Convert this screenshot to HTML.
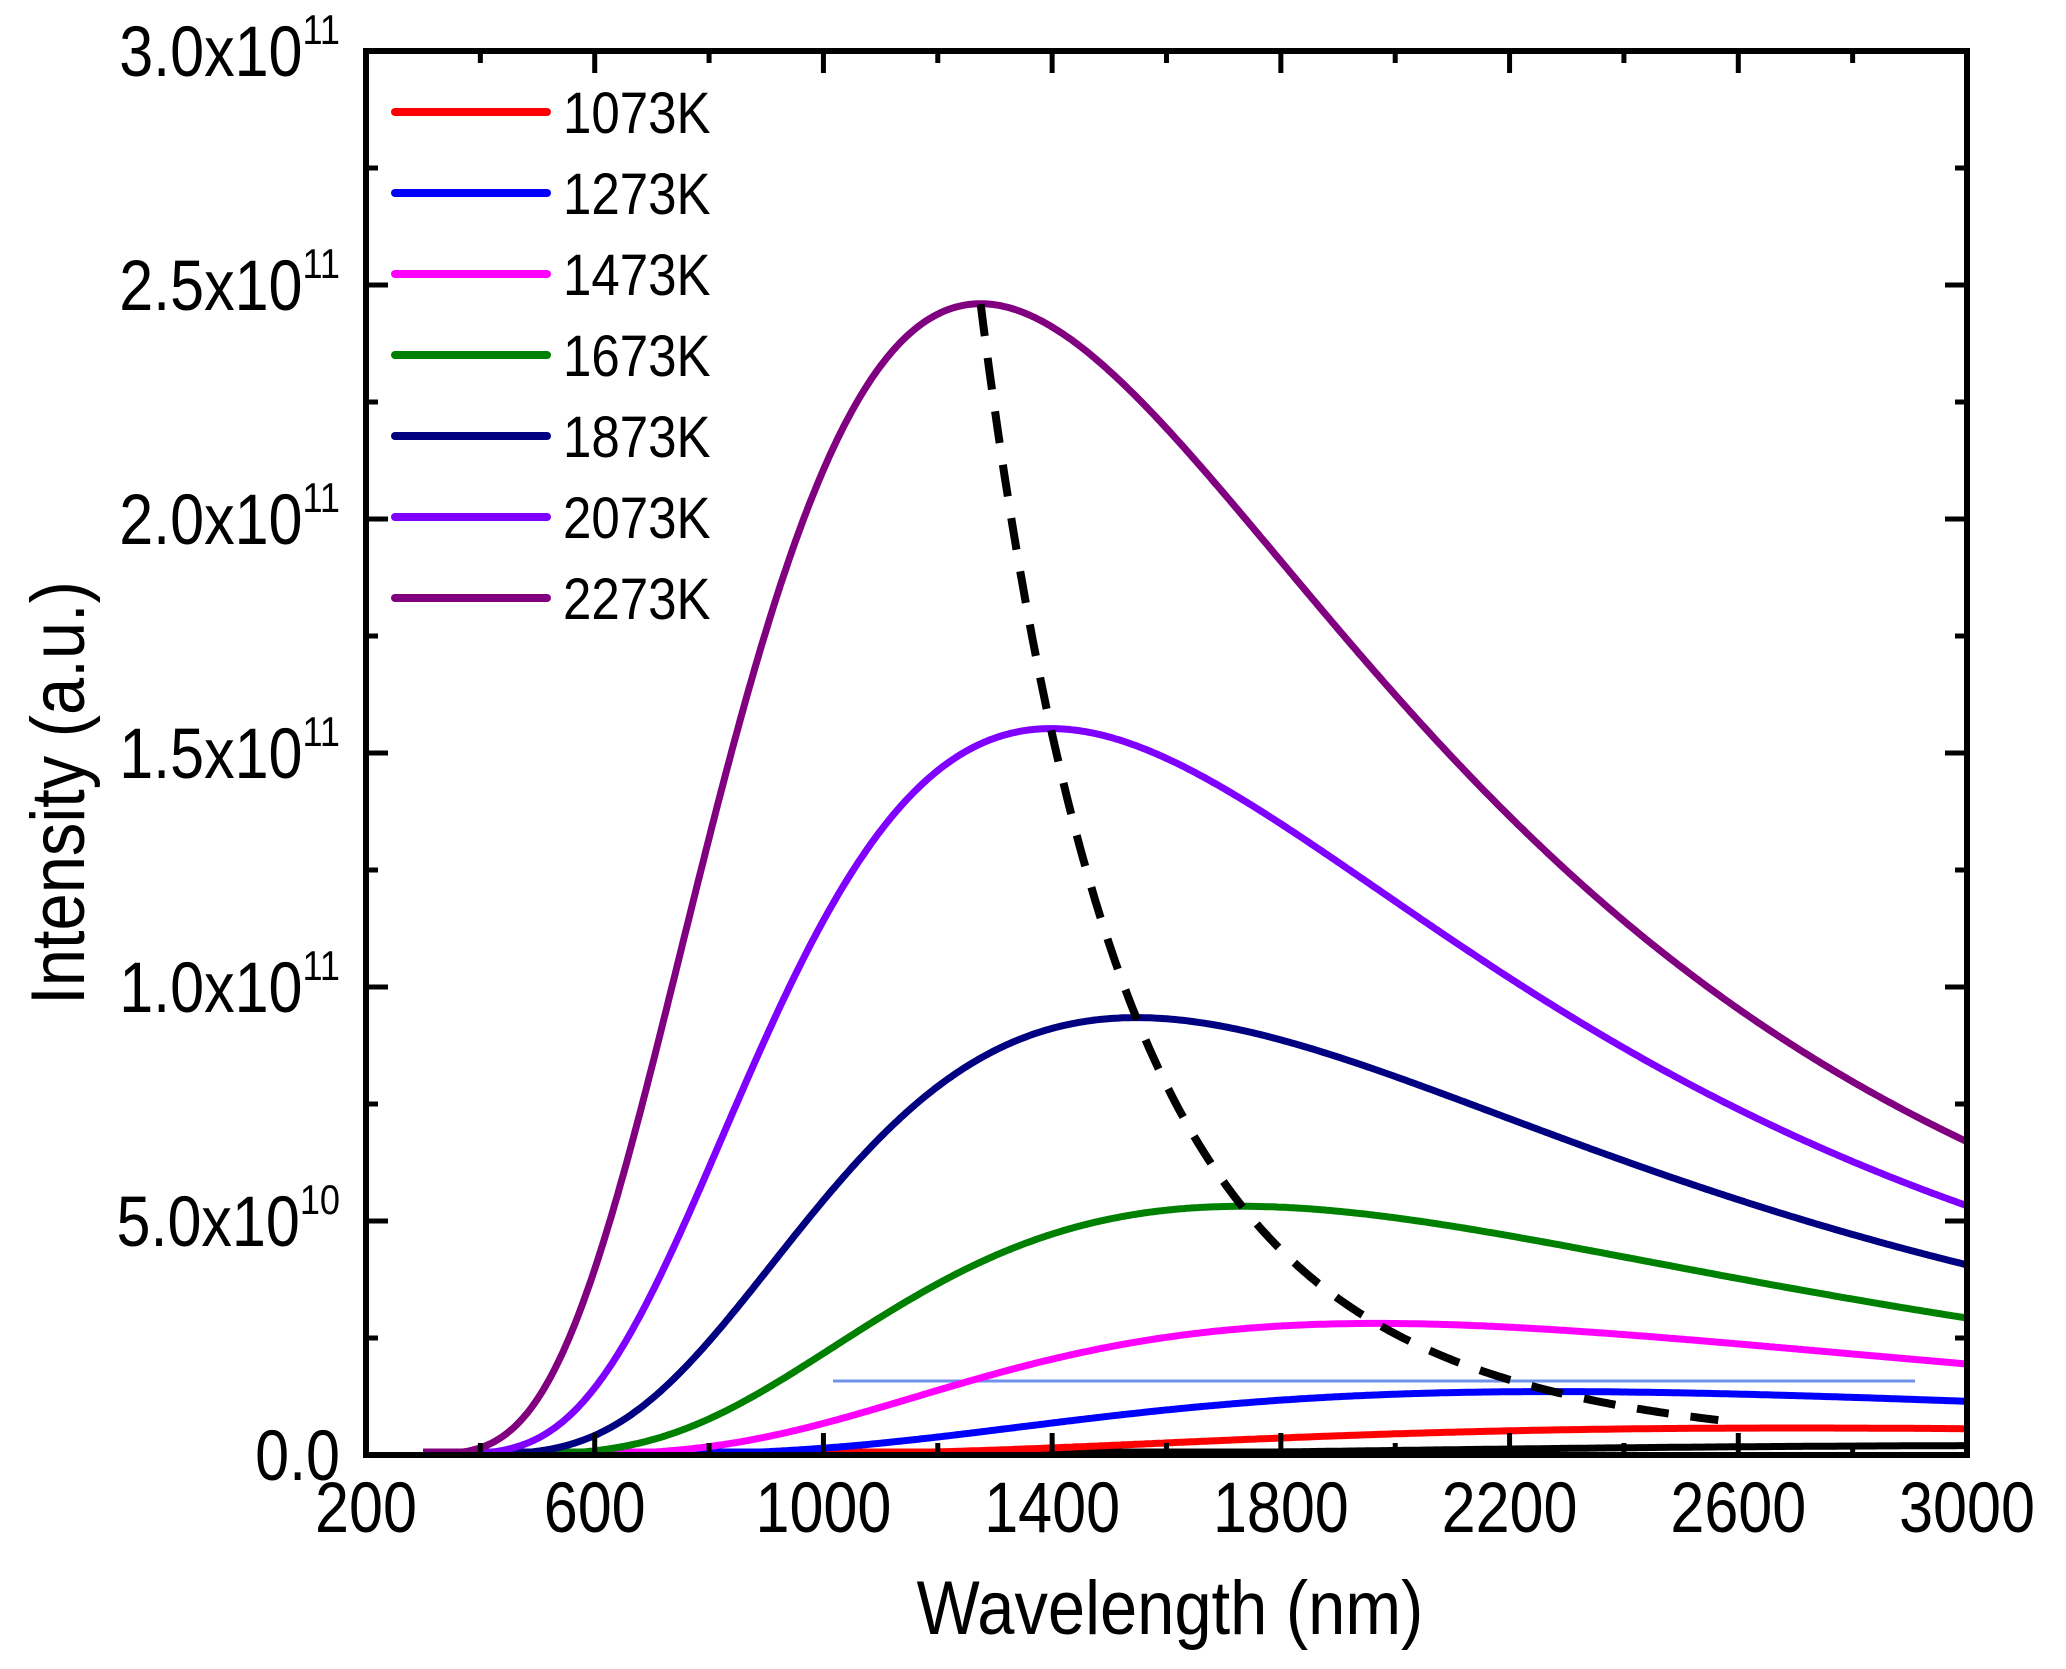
<!DOCTYPE html>
<html><head><meta charset="utf-8"><style>html,body{margin:0;padding:0;background:#fff}svg{display:block}</style></head>
<body>
<svg id="s" width="2066" height="1669" xmlns="http://www.w3.org/2000/svg" font-family="Liberation Sans, Arial, sans-serif">
<rect width="2066" height="1669" fill="#fff"/>
<g id="curves"></g>
<g id="ticks" stroke="#000" stroke-width="5"></g>
<rect x="366" y="51" width="1601" height="1404" fill="none" stroke="#000" stroke-width="6"/>
<g font-size="71" fill="#000" text-anchor="middle" id="xl"></g>
<g font-size="71" fill="#000" text-anchor="end" id="yl"></g>
<text x="1170" y="1634" font-size="76" text-anchor="middle" transform="translate(1170,0) scale(0.88,1) translate(-1170,0)">Wavelength (nm)</text>
<text transform="translate(84,793) rotate(-90) scale(0.88,1)" font-size="76" text-anchor="middle">Intensity (a.u.)</text>
<g id="leg" font-size="58"></g>
</svg>
<script>
var NS="http://www.w3.org/2000/svg";
function X(l){return 366+(l-200)/2800*1601;}
function Y(v){return 1455-v/1e11*468;}
function el(p,t,a,txt){var e=document.createElementNS(NS,t);for(var k in a)e.setAttribute(k,a[k]);if(txt!=null)e.textContent=txt;document.getElementById(p).appendChild(e);return e;}
function sx(x,s){return "translate("+x+",0) scale("+s+",1) translate("+(-x)+",0)";}
var c2=1.4388e7;
function B(l,T){return Math.pow(l,-5)/(Math.exp(c2/(l*T))-1);}
var Tref=2273;
var peakRef=B(2897.8/Tref*1000,Tref);
var K=2.46e11/peakRef;
el("curves","line",{x1:833,y1:1381,x2:1915,y2:1381,stroke:"#6f93e6","stroke-width":3});
var series=[[873,"#000",1000],[1073,"#ff0000",300],[1273,"#0000ff",300],[1473,"#ff00ff",300],[1673,"#008000",300],[1873,"#000080",300],[2073,"#8000ff",300],[2273,"#800080",300]];
series.forEach(function(s){
  var d="";for(var l=s[2];l<=3000;l+=5){var v=K*B(l,s[0]);var y=Math.min(Y(v),1452);d+=(d?"L":"M")+X(l).toFixed(1)+","+y.toFixed(1);}
  el("curves","path",{d:d,fill:"none",stroke:s[1],"stroke-width":7,"stroke-linejoin":"round"});
});
var d="";for(var l=1275;l<=2565;l+=5){var T=2897800/l;var v=K*B(l,T);d+=(d?"L":"M")+X(l).toFixed(1)+","+Y(v).toFixed(1);}
el("curves","path",{d:d,fill:"none",stroke:"#000","stroke-width":8,"stroke-dasharray":"32,22"});
for(var l=200;l<=3000;l+=200){var maj=(l-200)%400==0;var L=maj?22:12;var x=X(l);
 el("ticks","line",{x1:x,y1:1455,x2:x,y2:1455-L});el("ticks","line",{x1:x,y1:51,x2:x,y2:51+L});
 if(maj)el("xl","text",{x:x,y:1532,transform:sx(x,0.86)},String(l));}
for(var i=0;i<=12;i++){var v=i*0.25e11;var y=Y(v);var maj=i%2==0;var L=maj?22:12;
 el("ticks","line",{x1:366,y1:y,x2:366+L,y2:y});el("ticks","line",{x1:1967,y1:y,x2:1967-L,y2:y});
 if(maj){ if(i==0){el("yl","text",{x:340,y:y+25,transform:sx(340,0.86)},"0.0");}
  else{var m=(v>=1e11)?(v/1e11):(v/1e10);var ex=(v>=1e11)?"11":"10";
   var t=el("yl","text",{x:340,y:y+25,transform:sx(340,0.86)});
   var a=document.createElementNS(NS,"tspan");a.textContent=m.toFixed(1)+"x10";t.appendChild(a);
   var b=document.createElementNS(NS,"tspan");b.setAttribute("dy","-32");b.setAttribute("font-size","42");b.textContent=ex;t.appendChild(b);}}}
var leg=[["1073K","#ff0000"],["1273K","#0000ff"],["1473K","#ff00ff"],["1673K","#008000"],["1873K","#000080"],["2073K","#8000ff"],["2273K","#800080"]];
leg.forEach(function(s,i){var y=112+i*81;
 el("leg","line",{x1:395,y1:y,x2:547,y2:y,stroke:s[1],"stroke-width":8,"stroke-linecap":"round"});
 el("leg","text",{x:563,y:y+21,fill:"#000",transform:sx(563,0.88)},s[0]);});
</script>
</body></html>
